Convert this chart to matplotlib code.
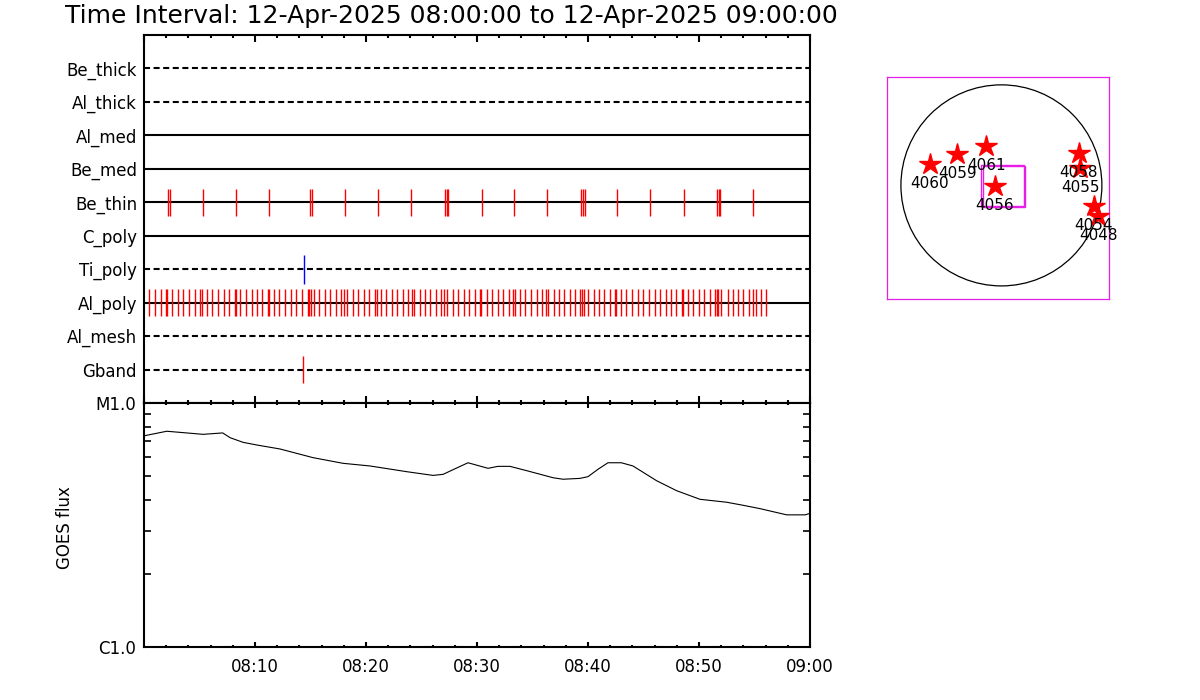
import matplotlib
matplotlib.use("Agg")
import matplotlib.pyplot as plt
import numpy as np
from matplotlib.ticker import FixedLocator, FixedFormatter, NullFormatter, MultipleLocator
from matplotlib.patches import Circle, Rectangle

# ---------------- data ----------------
title = "Time Interval: 12-Apr-2025 08:00:00 to 12-Apr-2025 09:00:00"
channels = ["Be_thick", "Al_thick", "Al_med", "Be_med", "Be_thin",
            "C_poly", "Ti_poly", "Al_poly", "Al_mesh", "Gband"]

# exposure times (minutes after 08:00)
be_thin_times = [2.19, 2.37, 5.34, 8.32, 11.29, 14.98, 15.16, 18.14, 21.11, 24.08,
                 27.15, 27.27, 27.42, 30.42, 33.36, 36.33, 39.40, 39.58, 39.76,
                 42.64, 45.61, 48.68, 51.65, 51.78, 51.92, 54.89]
ti_poly_times = [14.44]
gband_times = [14.35]
al_poly_times = [0.48, 0.99, 1.50, 2.01, 2.10, 2.52, 3.04, 3.54, 4.08, 4.60, 5.07, 5.20,
                 5.68, 6.15, 6.67, 7.18, 7.69, 8.17, 8.26, 8.68, 9.19, 9.70, 10.21, 10.66,
                 11.17, 11.29, 11.69, 12.19, 12.70, 13.22, 13.69, 14.21, 14.80, 14.89, 15.02,
                 15.32, 15.79, 16.31, 16.78, 17.32, 17.78, 18.02, 18.29, 18.80, 19.31, 19.82,
                 20.30, 20.81, 20.99, 21.35, 21.83, 22.32, 22.82, 23.36, 23.81, 24.12, 24.35,
                 24.89, 25.34, 25.79, 26.33, 26.78, 27.05, 27.32, 27.87, 28.32, 28.80, 29.31,
                 29.85, 30.30, 30.39, 30.93, 31.38, 31.92, 32.37, 32.91, 33.27, 33.42, 33.87,
                 34.35, 34.89, 35.38, 35.88, 36.24, 36.37, 36.96, 37.41, 37.87, 38.35, 38.86,
                 39.31, 39.46, 39.67, 40.03, 40.57, 41.02, 41.47, 42.01, 42.46, 42.55, 43.00,
                 43.45, 43.99, 44.53, 44.98, 45.52, 46.04, 46.51, 47.00, 47.51, 47.96, 48.50,
                 48.59, 49.04, 49.49, 50.03, 50.48, 50.99, 51.47, 51.60, 51.71, 51.98, 52.59,
                 53.04, 53.51, 53.99, 54.53, 54.84, 55.11, 55.61, 56.06]

# GOES flux (minutes after 08:00, W/m^2 in units of 1e-6)
goes_t = [0.0, 0.09, 2.05, 3.24, 5.32, 7.09, 7.75, 8.92, 10.15, 12.25, 15.23, 17.93,
          20.36, 23.67, 26.04, 26.94, 29.19, 30.99, 31.89, 32.97, 34.48, 36.85, 37.75,
          39.28, 40.00, 40.90, 41.80, 43.00, 44.05, 46.19, 47.99, 50.09, 52.49, 53.96,
          55.50, 57.90, 59.56, 60.0]
goes_f = [7.30, 7.35, 7.66, 7.58, 7.44, 7.54, 7.21, 6.90, 6.73, 6.48, 5.97, 5.66,
          5.52, 5.23, 5.05, 5.10, 5.69, 5.40, 5.50, 5.50, 5.28, 4.94, 4.87,
          4.91, 4.99, 5.35, 5.69, 5.69, 5.52, 4.80, 4.37, 4.03, 3.92, 3.81,
          3.69, 3.48, 3.48, 3.53]

time_tick_pos = [10, 20, 30, 40, 50, 60]
time_tick_labels = ["08:10", "08:20", "08:30", "08:40", "08:50", "09:00"]
flux_tick_pos = [1e-6, 1e-5]
flux_tick_labels = ["C1.0", "M1.0"]

# active regions (arcsec)
ar_names = ["4060", "4059", "4061", "4056", "4058", "4055", "4054", "4048"]
ar_x = [-685, -420, -143, -64, 741, 754, 884, 923]
ar_y = [207, 303, 372, -3, 309, 166, -201, -289]
fov_x = [-191, -175]
fov_y = [-200, -210]
fov_w = [404, 404]
fov_h = [398, 398]
sun_radius = 960

# ---------------- styles ----------------
row_styles = ["dashed", "dashed", "solid", "solid", "solid",
              "solid", "dashed", "solid", "dashed", "dashed"]
dash = (0, (2.9, 1.7))

fig = plt.figure(figsize=(12, 7), dpi=100)
plt.rcParams['font.family'] = ['DejaVu Sans']

ax1 = fig.add_axes([144/1200, 1-403/700, 666/1200, 368/700])
ax2 = fig.add_axes([144/1200, 1-647/700, 666/1200, 244/700])
ax3 = fig.add_axes([887/1200, 1-299/700, 222/1200, 222/700])

# ----- top panel -----
n = len(channels)
rows = list(range(n, 0, -1))
for name, yv, st in zip(channels, rows, row_styles):
    ls = dash if st == "dashed" else "-"
    ax1.plot([0, 60], [yv, yv], color="black", lw=1.5, linestyle=ls, zorder=1)

def ticks(ax, times, row, color, half=0.41):
    ax.vlines(times, row - half, row + half, colors=color, lw=1.0, zorder=3)

ticks(ax1, be_thin_times, rows[channels.index("Be_thin")], "red")
ticks(ax1, ti_poly_times, rows[channels.index("Ti_poly")], "blue", 0.43)
ticks(ax1, al_poly_times, rows[channels.index("Al_poly")], "red")
ticks(ax1, gband_times, rows[channels.index("Gband")], "red")

ax1.set_xlim(0, 60)
ax1.set_ylim(0, n + 1)
ax1.set_yticks(rows)
ax1.set_yticklabels(channels, fontsize=12)
ax1.tick_params(axis="y", length=0, pad=5)
ax1.xaxis.set_major_locator(MultipleLocator(10))
ax1.xaxis.set_minor_locator(MultipleLocator(2))
ax1.xaxis.set_major_formatter(NullFormatter())
ax1.tick_params(axis="x", which="both", direction="in", top=True, bottom=True,
                labelbottom=False, width=1.5)
ax1.tick_params(axis="x", which="major", length=5)
ax1.tick_params(axis="x", which="minor", length=2)
for s in ax1.spines.values():
    s.set_linewidth(1.5)

# ----- GOES panel -----
ax2.plot(goes_t, np.array(goes_f) * 1e-6, color="black", lw=0.8)
ax2.set_yscale("log")
ax2.set_ylim(1e-6, 1e-5)
ax2.set_xlim(0, 60)
ax2.yaxis.set_major_locator(FixedLocator(flux_tick_pos))
ax2.yaxis.set_major_formatter(FixedFormatter(flux_tick_labels))
ax2.yaxis.set_minor_locator(FixedLocator([k * 1e-6 for k in range(2, 10)]))
ax2.yaxis.set_minor_formatter(NullFormatter())
ax2.tick_params(axis="y", which="both", direction="in", left=True, right=True,
                width=1.2, labelsize=12, pad=6)
ax2.tick_params(axis="y", which="minor", length=5)
ax2.tick_params(axis="y", which="major", length=5)
ax2.set_xticks(time_tick_pos)
ax2.set_xticklabels(time_tick_labels, fontsize=12)
ax2.xaxis.set_minor_locator(MultipleLocator(2))
ax2.tick_params(axis="x", which="both", direction="in", top=True, bottom=True,
                width=1.5, pad=8)
ax2.tick_params(axis="x", which="major", length=3.5)
ax2.tick_params(axis="x", which="minor", length=1.6)
for s in ax2.spines.values():
    s.set_linewidth(1.5)
fig.text(65/1200, 1-528/700, "GOES flux", rotation=90, fontsize=12,
         ha="center", va="center")

# ----- title -----
fig.text(65/1200, 1-16/700, title, fontsize=18, ha="left", va="center")

# ----- solar disk panel -----
ax3.set_xlim(-1093, 1028)
ax3.set_ylim(-1085, 1035)
ax3.set_xticks([])
ax3.set_yticks([])
for s in ax3.spines.values():
    s.set_color("#e61ee6")
    s.set_linewidth(0.9)
ax3.add_patch(Circle((0, 0), sun_radius, fill=False, color="black", lw=0.9))
for fx, fy, fw, fh in zip(fov_x, fov_y, fov_w, fov_h):
    ax3.add_patch(Rectangle((fx, fy), fw, fh, fill=False, edgecolor="#e61ee6", lw=1.0))
ax3.plot(ar_x, ar_y, linestyle="none", marker="*", markersize=16,
         color="red", markeredgecolor="red", zorder=4)
for nm, x, y in zip(ar_names, ar_x, ar_y):
    ax3.annotate(nm, (x, y), xytext=(0, -14), textcoords="offset points",
                 ha="center", va="center", fontsize=11, zorder=5)

fig.savefig("out.png", dpi=100)
